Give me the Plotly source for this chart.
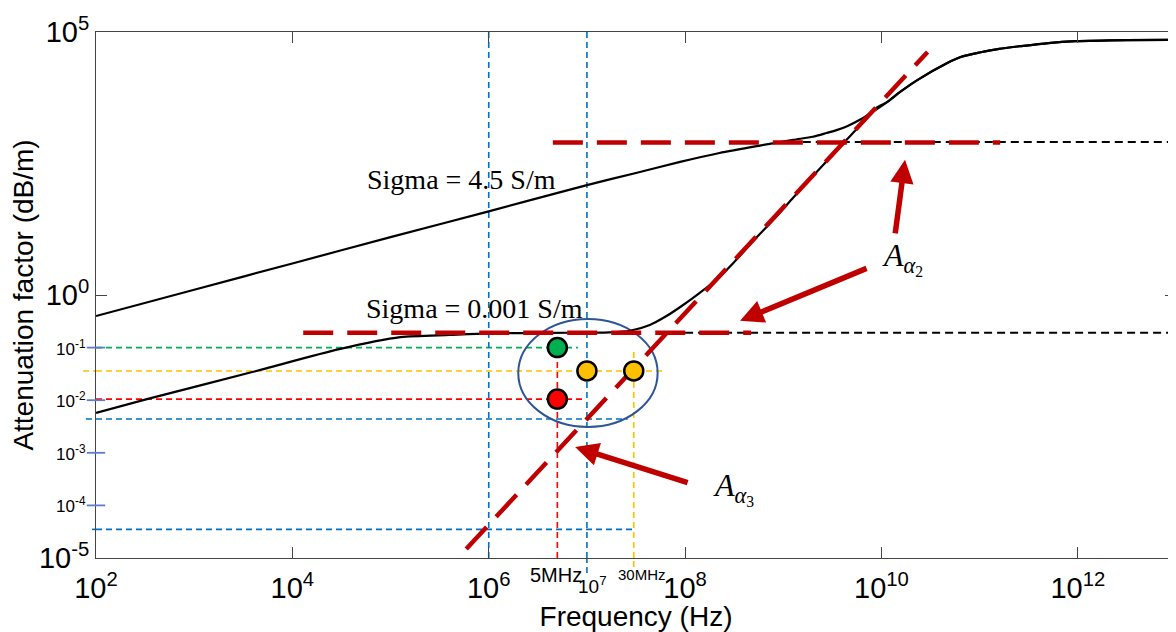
import plotly.graph_objects as go

# ---------------- data ----------------
# Sigma = 4.5 S/m curve
freq_s45 = [1e2, 1e3, 1e4, 1e5, 1e6, 1e7, 3.16e7, 8.9e7, 2.24e8, 5.75e8, 1.26e9, 2.0e9,
            2.75e9, 3.55e9, 4.47e9, 6.03e9, 8.13e9, 1.15e10, 1.55e10, 2.34e10, 4.68e10,
            6.31e10, 1e11, 1.58e11, 2.57e11, 5.0e11, 9.5e11, 3.16e12, 1e13]
atten_s45 = [0.398, 1.26, 3.98, 12.6, 38.9, 123, 209, 339, 501, 692, 891, 1020,
             1200, 1380, 1620, 2140, 3020, 4680, 7240, 12300, 25700,
             33100, 40700, 47900, 53700, 61700, 66800, 70000, 70800]

# Sigma = 0.001 S/m curve
freq_s0001 = [1e2, 3.3e2, 4e3, 3e4, 1.26e5, 4e5, 1e6, 4.2e6, 1.7e7, 2.75e7, 4.37e7, 6.46e7,
              9.55e7, 1.41e8, 2.09e8, 3.1e8, 4.9e8, 7.94e8, 1.26e9, 1.86e9, 2.95e9, 4.8e9,
              6.76e9, 8.9e9, 1.15e10, 1.55e10, 2.34e10, 4.68e10, 6.31e10, 1e11, 1.58e11,
              2.57e11, 5.0e11, 9.5e11, 3.16e12, 1e13]
atten_s0001 = [0.00575, 0.0105, 0.0347, 0.0933, 0.158, 0.174, 0.186, 0.191, 0.195, 0.209,
               0.269, 0.398, 0.646, 1.10, 1.95, 4.07, 10.5, 26.9, 70.8, 158, 398, 1050,
               2090, 3630, 4680, 7240, 12300, 25700, 33100, 40700, 47900,
               53700, 61700, 66800, 70000, 70800]

# asymptote lines (A_alpha)
a1_freq = [1.29e4, 4.7e8];      a1_val = [0.191, 0.191]
a1_black_freq = [1e8, 1e13];    a1_black_val = [0.191, 0.191]
a2_freq = [4.5e6, 1.62e11];     a2_val = [794, 794]
a2_black_freq = [1.58e9, 1e13]; a2_black_val = [813, 813]
a3_freq = [5.9e5, 2.95e10];     a3_val = [1.48e-5, 41700]

# highlighted points
pt_freq = [5e6, 5e6, 1e7, 3e7]
pt_val = [0.1, 0.0105, 0.036, 0.036]
pt_colors = ["#00B050", "#FF0000", "#FFC000", "#FFC000"]

# guide lines
h_guides_val = [0.1, 0.036, 0.0105, 0.0044, 3.5e-5]
h_guides_end = [8.1e6, 6.2e7, 9.5e6, 2.6e7, 2.9e7]
h_guides_col = ["#00B050", "#FFC000", "#FF0000", "#0070C0", "#0070C0"]
h_guides_stub = [0.0, 0.012, 0.0, 0.0093, 0.0037]

v_guides_freq = [1e6, 1e7, 5e6, 3e7]
v_guides_top = [1e5, 1e5, 0.1, 0.083]
v_guides_col = ["#0070C0", "#0070C0", "#FF0000", "#FFC000"]
v_guides_stub = [0.0, 0.0285, 0.0, 0.017]

ellipse_freq = [2.0e6, 5.25e7]
ellipse_val = [0.0031, 0.35]

# tick labels
x_tickvals = [1e2, 1e4, 1e6, 1e8, 1e10, 1e12]
x_ticktext = ["10<sup>2</sup>", "10<sup>4</sup>", "10<sup>6</sup>", "10<sup>8</sup>",
              "10<sup>10</sup>", "10<sup>12</sup>"]
y_tickvals = [1e-5, 1e0, 1e5]
y_ticktext = ["10<sup>-5</sup>", "10<sup>0</sup>", "10<sup>5</sup>"]
y_minor_exp = [-1, -2, -3, -4]
y_minor_text = ["10<sup>-1</sup>", "10<sup>-2</sup>", "10<sup>-3</sup>", "10<sup>-4</sup>"]

SANS = "Arial, 'Liberation Sans', sans-serif"
SERIF = "'Times New Roman', 'Liberation Serif', serif"
DARKRED = "#C00000"

fig = go.Figure()

# ---------------- guide shapes ----------------
for v, xe, c, stub in zip(h_guides_val, h_guides_end, h_guides_col, h_guides_stub):
    fig.add_shape(type="line", xref="x", yref="y", x0=1e2, x1=xe, y0=v, y1=v,
                  line=dict(color=c, width=1.6, dash="6px,4px"), layer="below")
    if stub > 0:
        fig.add_shape(type="line", xref="paper", yref="y", x0=-stub, x1=0, y0=v, y1=v,
                      line=dict(color=c, width=1.6, dash="6px,4px"), layer="below")

for f, top, c, stub in zip(v_guides_freq, v_guides_top, v_guides_col, v_guides_stub):
    fig.add_shape(type="line", xref="x", yref="y", x0=f, x1=f, y0=1e-5, y1=top,
                  line=dict(color=c, width=1.6, dash="6px,4px"), layer="below")
    if stub > 0:
        fig.add_shape(type="line", xref="x", yref="paper", x0=f, x1=f, y0=-stub, y1=0,
                      line=dict(color=c, width=1.6, dash="6px,4px"), layer="below")

# blue minor y ticks
for e in y_minor_exp:
    fig.add_shape(type="line", xref="paper", yref="y", x0=-0.0085, x1=0.0085,
                  y0=10 ** e, y1=10 ** e, line=dict(color="#5B7FCC", width=1.8))

# ellipse
fig.add_shape(type="circle", xref="x", yref="y", x0=ellipse_freq[0], x1=ellipse_freq[1],
              y0=ellipse_val[0], y1=ellipse_val[1], line=dict(color="#2F5597", width=2),
              layer="below")

# ---------------- curves ----------------
fig.add_trace(go.Scatter(x=freq_s45, y=atten_s45, mode="lines",
                         line=dict(color="black", width=2.2, shape="spline", smoothing=0.7),
                         showlegend=False))
fig.add_trace(go.Scatter(x=freq_s0001, y=atten_s0001, mode="lines",
                         line=dict(color="black", width=2.2, shape="spline", smoothing=0.7),
                         showlegend=False))

for fx, vy in [(a1_black_freq, a1_black_val), (a2_black_freq, a2_black_val)]:
    fig.add_trace(go.Scatter(x=fx, y=vy, mode="lines",
                             line=dict(color="black", width=2, dash="8px,5px"),
                             showlegend=False))

for fx, vy in [(a1_freq, a1_val), (a2_freq, a2_val), (a3_freq, a3_val)]:
    fig.add_trace(go.Scatter(x=fx, y=vy, mode="lines",
                             line=dict(color=DARKRED, width=4.5, dash="30px,14px"),
                             showlegend=False))

fig.add_trace(go.Scatter(x=pt_freq, y=pt_val, mode="markers",
                         marker=dict(size=19, color=pt_colors, line=dict(color="black", width=2.5)),
                         showlegend=False))

# ---------------- annotations ----------------
ann = []
for e, t in zip(y_minor_exp, y_minor_text):
    ann.append(dict(xref="paper", yref="y", x=-0.0075, y=e, text=t, showarrow=False,
                    xanchor="right", yanchor="middle", font=dict(family=SANS, size=17, color="black")))

ann.append(dict(xref="x", yref="paper", x=6.69, y=0, yshift=-17, text="5MHz", showarrow=False,
                xanchor="center", yanchor="middle", font=dict(family=SANS, size=20, color="black")))
ann.append(dict(xref="x", yref="paper", x=7.06, y=0, yshift=-27, text="10<sup>7</sup>", showarrow=False,
                xanchor="center", yanchor="middle", font=dict(family=SANS, size=19, color="black")))
ann.append(dict(xref="x", yref="paper", x=7.56, y=0, yshift=-16, text="30MHz", showarrow=False,
                xanchor="center", yanchor="middle", font=dict(family=SANS, size=15, color="black")))

ann.append(dict(xref="x", yref="y", x=5.72, y=2.19, text="Sigma = 4.5 S/m", showarrow=False,
                xanchor="center", yanchor="middle", font=dict(family=SERIF, size=28, color="black")))
ann.append(dict(xref="x", yref="y", x=5.85, y=-0.25, text="Sigma = 0.001 S/m", showarrow=False,
                xanchor="center", yanchor="middle", font=dict(family=SERIF, size=28, color="black")))

ann.append(dict(xref="x", yref="y", x=10.21, y=0.70, text="<i>A</i><sub><i>α</i><sub>2</sub></sub>",
                showarrow=False, xanchor="center", yanchor="middle",
                font=dict(family=SERIF, size=32, color="black")))
ann.append(dict(xref="x", yref="y", x=8.49, y=-3.67, text="<i>A</i><sub><i>α</i><sub>3</sub></sub>",
                showarrow=False, xanchor="center", yanchor="middle",
                font=dict(family=SERIF, size=32, color="black")))

# arrows: tip (log10 f, log10 a) and tail offsets in pixels
arrow_tip_x = [10.24, 8.56, 6.88]
arrow_tip_y = [2.57, -0.49, -2.89]
arrow_ax = [-10, 128, 114]
arrow_ay = [75, -53, 36]
for x, y, ax, ay in zip(arrow_tip_x, arrow_tip_y, arrow_ax, arrow_ay):
    ann.append(dict(xref="x", yref="y", x=x, y=y, ax=ax, ay=ay, axref="pixel", ayref="pixel",
                    text="", showarrow=True, arrowhead=2, arrowsize=0.85, arrowwidth=5.5,
                    arrowcolor=DARKRED, standoff=0))

# the page adds an 8px body margin, so the figure is sized to the remaining window
fig.update_layout(
    width=1168, height=624,
    margin=dict(l=88, r=0, t=24, b=74, autoexpand=False),
    paper_bgcolor="white", plot_bgcolor="white",
    font=dict(family=SANS, color="black"),
    annotations=ann,
    showlegend=False,
)
fig.update_xaxes(type="log", range=[2, 13], tickvals=x_tickvals, ticktext=x_ticktext,
                 ticks="inside", ticklen=11, tickcolor="#444", tickwidth=1,
                 showline=True, linecolor="#444", linewidth=1, mirror="ticks",
                 showgrid=False, zeroline=False, automargin=False, ticklabelstandoff=4,
                 tickfont=dict(family=SANS, size=29, color="black"),
                 title=dict(text="Frequency (Hz)", font=dict(family=SANS, size=28, color="black"),
                            standoff=0))
fig.update_yaxes(type="log", range=[-5, 5], tickvals=y_tickvals, ticktext=y_ticktext,
                 ticks="inside", ticklen=11, tickcolor="#444", tickwidth=1,
                 showline=True, linecolor="#444", linewidth=1, mirror="ticks",
                 showgrid=False, zeroline=False, automargin=False,
                 tickfont=dict(family=SANS, size=29, color="black"),
                 title=dict(text="Attenuation factor (dB/m)", font=dict(family=SANS, size=28, color="black"),
                            standoff=2))

fig.write_html("out.html")
